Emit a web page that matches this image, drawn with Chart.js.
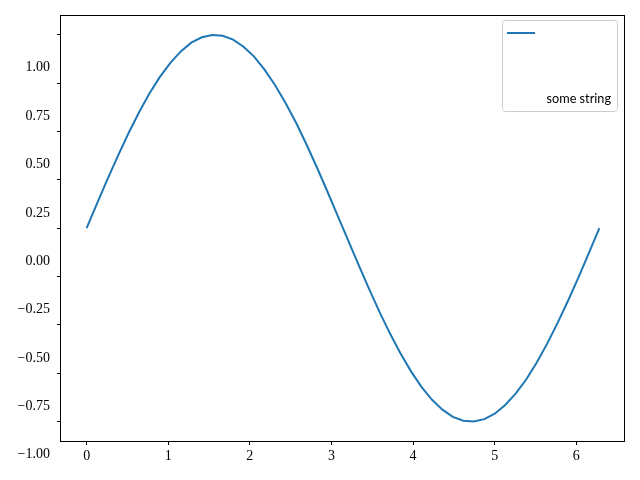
<!DOCTYPE html>
<html>
<head>
<meta charset="utf-8">
<script src="https://cdn.jsdelivr.net/npm/chart.js@4"></script>
<style>
  body { margin: 0; background: #fff; }
  #chart { display: block; }
</style>
</head>
<body>
<canvas id="chart" width="640" height="480"></canvas>
<script>
// sample points of the curve
const xValues = [0, 0.128, 0.256, 0.385, 0.513, 0.641, 0.769, 0.898, 1.026, 1.154,
    1.282, 1.411, 1.539, 1.667, 1.795, 1.923, 2.052, 2.180, 2.308, 2.436,
    2.565, 2.693, 2.821, 2.949, 3.077, 3.206, 3.334, 3.462, 3.590, 3.719,
    3.847, 3.975, 4.103, 4.232, 4.360, 4.488, 4.616, 4.744, 4.873, 5.001,
    5.129, 5.257, 5.386, 5.514, 5.642, 5.770, 5.899, 6.027, 6.155, 6.283];
const yValues = [0, 0.128, 0.254, 0.375, 0.491, 0.598, 0.696, 0.782, 0.855, 0.914,
    0.959, 0.987, 0.999, 0.995, 0.975, 0.938, 0.887, 0.820, 0.740, 0.648,
    0.546, 0.434, 0.315, 0.191, 0.064, -0.064, -0.191, -0.315, -0.434, -0.546,
    -0.648, -0.740, -0.820, -0.887, -0.938, -0.975, -0.995, -0.999, -0.987, -0.959,
    -0.914, -0.855, -0.782, -0.696, -0.598, -0.491, -0.375, -0.254, -0.128, 0];
const seriesLabel = 'some string';
const xTicks = [0, 1, 2, 3, 4, 5, 6];
const yTicks = [-1.0, -0.75, -0.5, -0.25, 0, 0.25, 0.5, 0.75, 1.0];

const serif = '"Liberation Serif", "DejaVu Serif", serif';

// draws the axes frame and the legend box
const framePlugin = {
    id: 'frame',
    afterDraw(chart) {
        const ctx = chart.ctx;
        const a = chart.chartArea;
        ctx.save();
        ctx.strokeStyle = '#000';
        ctx.lineWidth = 1;
        ctx.strokeRect(Math.round(a.left) - 0.5, Math.round(a.top) + 0.5,
            Math.round(a.right - a.left), Math.round(a.bottom - a.top));

        // legend
        ctx.beginPath();
        ctx.roundRect(502.5, 20.5, 115, 91, 3);
        ctx.fillStyle = 'rgba(255,255,255,0.8)';
        ctx.fill();
        ctx.strokeStyle = '#cccccc';
        ctx.stroke();

        ctx.beginPath();
        ctx.moveTo(507, 33);
        ctx.lineTo(535, 33);
        ctx.strokeStyle = '#1f77b4';
        ctx.lineWidth = 2;
        ctx.stroke();

        ctx.fillStyle = '#000';
        ctx.font = '12.7px Lato, sans-serif';
        ctx.textAlign = 'right';
        ctx.textBaseline = 'alphabetic';
        ctx.fillText(chart.data.datasets[0].label, 611, 103);
        ctx.restore();
    }
};

new Chart('chart', {
    type: 'scatter',
    data: {
        datasets: [{
            label: seriesLabel,
            data: xValues.map((x, i) => ({ x: x, y: yValues[i] })),
            showLine: true,
            pointRadius: 0,
            borderColor: '#1f77b4',
            borderWidth: 2,
            fill: false
        }]
    },
    options: {
        responsive: false,
        animation: false,
        layout: { padding: { top: 15, right: 15, left: 0, bottom: 0 } },
        plugins: {
            legend: { display: false },
            tooltip: { enabled: false }
        },
        scales: {
            x: {
                type: 'linear',
                min: -0.314,
                max: 6.597,
                afterFit: s => { s.height = 39; },
                afterBuildTicks: s => { s.ticks = xTicks.map(v => ({ value: v })); },
                border: { display: false },
                grid: { drawOnChartArea: false, tickLength: 4, color: '#000' },
                ticks: {
                    color: '#000',
                    padding: 3,
                    autoSkip: false,
                    maxRotation: 0,
                    font: { family: serif, size: 14 },
                    callback: v => String(v)
                }
            },
            y: {
                min: -1.1,
                max: 1.1,
                afterFit: s => { s.width = 61; },
                afterBuildTicks: s => { s.ticks = yTicks.map(v => ({ value: v })); },
                border: { display: false },
                grid: { drawOnChartArea: false, tickLength: 4, color: '#000' },
                ticks: {
                    color: '#000',
                    padding: 7,
                    autoSkip: false,
                    labelOffset: 33,
                    font: { family: serif, size: 14 },
                    callback: v => v.toFixed(2).replace('-', '\u2212')
                }
            }
        }
    },
    plugins: [framePlugin]
});
</script>
</body>
</html>
